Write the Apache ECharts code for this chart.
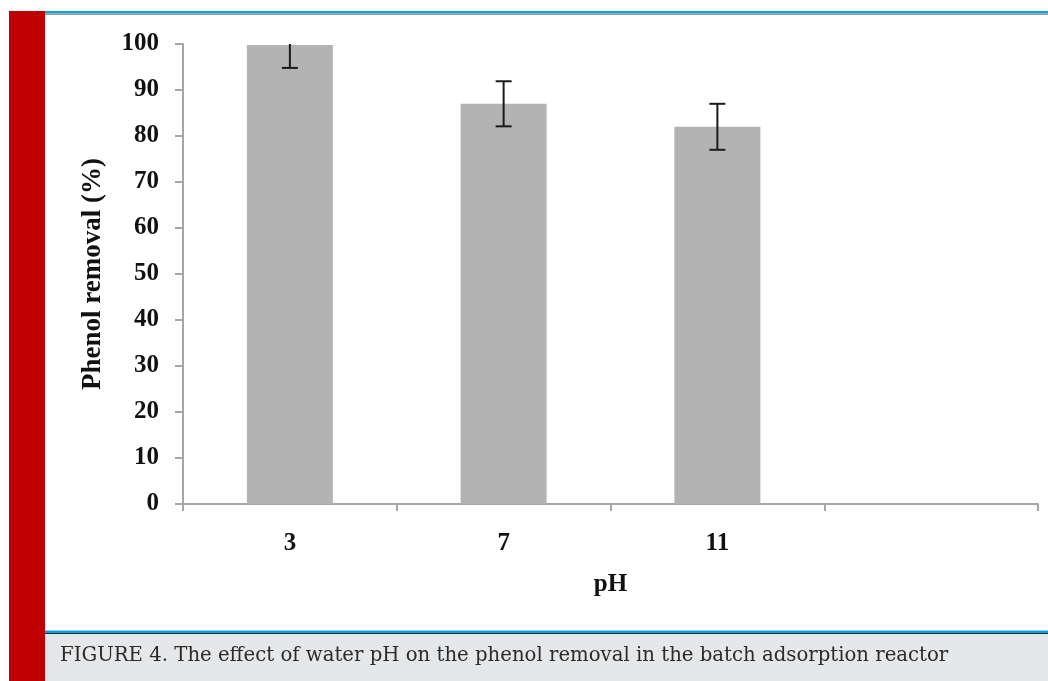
<!DOCTYPE html>
<html>
<head>
<meta charset="utf-8">
<title>Phenol removal vs pH</title>
<script src="https://cdn.jsdelivr.net/npm/echarts@6/dist/echarts.min.js"></script>
<style>
  html, body { margin: 0; padding: 0; background: #fff; }
  #chart { width: 1048px; height: 681px; }
</style>
</head>
<body>
<div id="chart"></div>
<script>
// pH categories (4th slot is empty in the original Excel plot)
const phLabels = ['3', '7', '11', ''];
const removal = [99.8, 87, 82, null];
const removalErr = [5, 4.9, 5, null];
const yTicks = { min: 0, max: 100, interval: 10 };

const serif = 'Liberation Serif';

function drawErrorBar(params, api) {
  const x = api.value(0);
  const lo = api.value(1);
  const hi = api.value(2);
  const pLo = api.coord([x, lo]);
  const pHi = api.coord([x, Math.min(hi, yTicks.max)]);
  const half = 8;
  const style = { stroke: '#1a1a1a', lineWidth: 2 };
  const kids = [
    { type: 'line', shape: { x1: pLo[0], y1: pLo[1], x2: pHi[0], y2: pHi[1] }, style },
    { type: 'line', shape: { x1: pLo[0] - half, y1: pLo[1], x2: pLo[0] + half, y2: pLo[1] }, style },
  ];
  // the top whisker is cut off by the plot edge when it passes 100
  if (hi <= yTicks.max) {
    kids.push({ type: 'line', shape: { x1: pHi[0] - half, y1: pHi[1], x2: pHi[0] + half, y2: pHi[1] }, style });
  }
  return { type: 'group', children: kids };
}

const errData = [];
removal.forEach((v, i) => {
  if (v == null) return;
  errData.push([i, v - removalErr[i], v + removalErr[i]]);
});

const chart = echarts.init(document.getElementById('chart'));
chart.setOption({
  animation: false,
  backgroundColor: '#fff',
  grid: { left: 183, right: 10, top: 44, bottom: 177 },
  xAxis: {
    type: 'category',
    data: phLabels,
    boundaryGap: true,
    name: 'pH',
    nameLocation: 'middle',
    nameGap: 68,
    nameTextStyle: { fontFamily: serif, fontWeight: 'bold', fontSize: 25, color: '#111' },
    axisLine: { lineStyle: { color: '#a6a6a6', width: 2 } },
    axisTick: { show: true, alignWithLabel: false, interval: 0, length: 7, lineStyle: { color: '#a6a6a6', width: 2 } },
    axisLabel: { margin: 27, fontFamily: serif, fontWeight: 'bold', fontSize: 25, color: '#111' },
    splitLine: { show: false }
  },
  yAxis: {
    type: 'value',
    min: yTicks.min,
    max: yTicks.max,
    interval: yTicks.interval,
    name: 'Phenol removal (%)',
    nameLocation: 'middle',
    nameGap: 76,
    nameTextStyle: { fontFamily: serif, fontWeight: 'bold', fontSize: 27, color: '#111' },
    axisLine: { show: true, lineStyle: { color: '#a6a6a6', width: 2 } },
    axisTick: { show: true, length: 8, lineStyle: { color: '#a6a6a6', width: 2 } },
    axisLabel: { margin: 24, fontFamily: serif, fontWeight: 'bold', fontSize: 25, color: '#111' },
    splitLine: { show: false }
  },
  series: [
    {
      type: 'bar',
      data: removal,
      barWidth: 86,
      itemStyle: { color: '#b3b3b3' },
      z: 2
    },
    {
      type: 'custom',
      data: errData,
      renderItem: drawErrorBar,
      z: 5
    }
  ],
  graphic: [
    // red side strip
    { type: 'rect', shape: { x: 9, y: 11, width: 36, height: 670 }, style: { fill: '#c00000' }, silent: true },
    // top rule
    { type: 'rect', shape: { x: 45, y: 11, width: 1003, height: 2.5 }, style: { fill: '#00a3e0' }, silent: true },
    { type: 'rect', shape: { x: 45, y: 13.5, width: 1003, height: 1.5 }, style: { fill: '#9a9a9a' }, silent: true },
    // caption box
    { type: 'rect', shape: { x: 45, y: 630.5, width: 1003, height: 2.5 }, style: { fill: '#00a3e0' }, silent: true },
    { type: 'rect', shape: { x: 45, y: 633, width: 1003, height: 1 }, style: { fill: '#2a2a2a' }, silent: true },
    { type: 'rect', shape: { x: 45, y: 634, width: 1003, height: 47 }, style: { fill: '#e6e7e9' }, silent: true },
    {
      type: 'text',
      left: 60,
      top: 646,
      style: {
        text: 'FIGURE 4. The effect of water pH on the phenol removal in the batch adsorption reactor',
        fontFamily: 'DejaVu Serif',
        fontSize: 19.7,
        fill: '#2b2b2b'
      },
      silent: true
    }
  ]
});
</script>
</body>
</html>
